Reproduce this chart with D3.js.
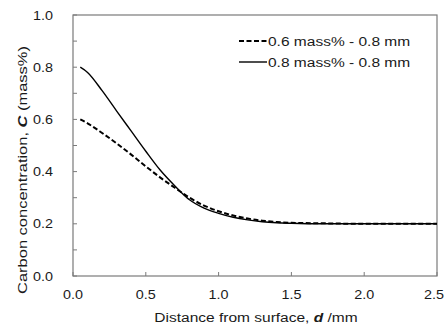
<!DOCTYPE html>
<html>
<head>
<meta charset="utf-8">
<script src="https://cdn.jsdelivr.net/npm/d3@7"></script>
<style>
  body { margin: 0; background: #fff; }
  text { font-family: "Liberation Sans", Arial, sans-serif; fill: #1a1a1a; }
</style>
</head>
<body>
<figure id="chart" style="margin:0"></figure>
<script>
// distance from surface (mm)
const dist = [0.05, 0.1, 0.2, 0.3, 0.4, 0.5, 0.6, 0.7, 0.8, 0.9, 1.0, 1.1, 1.2, 1.3, 1.4, 1.5, 1.7, 2.0, 2.5];
// carbon concentration (mass%)
const conc06 = [0.60, 0.585, 0.548, 0.508, 0.465, 0.42, 0.377, 0.338, 0.30, 0.27, 0.248, 0.232, 0.22, 0.212, 0.207, 0.204, 0.202, 0.20, 0.20];
const conc08 = [0.80, 0.78, 0.71, 0.632, 0.555, 0.478, 0.405, 0.345, 0.292, 0.26, 0.24, 0.225, 0.215, 0.208, 0.204, 0.202, 0.20, 0.20, 0.20];
const seriesNames = ["0.6 mass% - 0.8 mm", "0.8 mass% - 0.8 mm"];
const xTicks = [0, 0.5, 1.0, 1.5, 2.0, 2.5];
const yTicks = [0, 0.2, 0.4, 0.6, 0.8, 1.0];
const yMinor = [0.1, 0.3, 0.5, 0.7, 0.9];

const width = 445, height = 329;
const margin = { top: 15, right: 8, bottom: 53, left: 73 };
const sx = 1.15; // lettering in the picture is a bit wider than tall

const svg = d3.select("#chart").append("svg")
  .attr("width", width)
  .attr("height", height);

const x = d3.scaleLinear().domain([0, 2.5]).range([margin.left, width - margin.right]);
const y = d3.scaleLinear().domain([0, 1.0]).range([height - margin.bottom, margin.top]);

const axisColor = "#7a7a7a";

// frame
svg.append("rect")
  .attr("x", x(0)).attr("y", y(1))
  .attr("width", x(2.5) - x(0)).attr("height", y(0) - y(1))
  .attr("fill", "none").attr("stroke", axisColor).attr("stroke-width", 1.2);

// ticks (inside)
svg.selectAll(".ytick")
  .data(yTicks.concat(yMinor))
  .enter().append("line")
  .attr("x1", x(0)).attr("x2", x(0) + 4)
  .attr("y1", d => y(d)).attr("y2", d => y(d))
  .attr("stroke", axisColor);

svg.selectAll(".xtick")
  .data(xTicks)
  .enter().append("line")
  .attr("x1", d => x(d)).attr("x2", d => x(d))
  .attr("y1", y(0)).attr("y2", y(0) - 4)
  .attr("stroke", axisColor);

// tick labels
svg.selectAll(".ylab")
  .data(yTicks)
  .enter().append("text")
  .attr("transform", d => "translate(53," + (y(d) + 4.5) + ") scale(" + sx + ",1)")
  .attr("text-anchor", "end")
  .style("font-size", "12.5px")
  .text(d => d.toFixed(1));

// last label sits at the window edge, keep it inside
svg.selectAll(".xlab")
  .data(xTicks)
  .enter().append("text")
  .attr("transform", d => "translate(" + Math.min(x(d), width - 11) + ",299) scale(" + sx + ",1)")
  .attr("text-anchor", "middle")
  .style("font-size", "12.5px")
  .text(d => d.toFixed(1));

// axis titles
const xt = svg.append("text")
  .attr("transform", "translate(256,322) scale(" + sx + ",1)")
  .attr("text-anchor", "middle")
  .style("font-size", "13.5px");
xt.append("tspan").text("Distance from surface, ");
xt.append("tspan").attr("font-weight", "bold").attr("font-style", "italic").text("d");
xt.append("tspan").text(" /mm");

const yt = svg.append("text")
  .attr("transform", "translate(27,170) rotate(-90) scale(1.22,1)")
  .attr("text-anchor", "middle")
  .style("font-size", "13.5px");
yt.append("tspan").text("Carbon concentration, ");
yt.append("tspan").attr("font-weight", "bold").attr("font-style", "italic").text("C");
yt.append("tspan").text(" (mass%)");

// curves
const line = d3.line()
  .x(d => x(d[0]))
  .y(d => y(d[1]))
  .curve(d3.curveMonotoneX);

const series = [
  { name: seriesNames[0], values: dist.map((d, i) => [d, conc06[i]]), dash: "5,2.5", w: 2 },
  { name: seriesNames[1], values: dist.map((d, i) => [d, conc08[i]]), dash: null, w: 1.4 }
];

svg.selectAll(".curve")
  .data(series)
  .enter().append("path")
  .attr("d", d => line(d.values))
  .attr("fill", "none")
  .attr("stroke", "#000")
  .attr("stroke-width", d => d.w)
  .attr("stroke-dasharray", d => d.dash);

// legend
const legend = svg.selectAll(".legend")
  .data(series)
  .enter().append("g")
  .attr("transform", (d, i) => "translate(239," + (41 + i * 21) + ")");

legend.append("line")
  .attr("x1", 0).attr("x2", 28)
  .attr("stroke", "#000")
  .attr("stroke-width", d => d.w)
  .attr("stroke-dasharray", d => d.dash);

legend.append("text")
  .attr("transform", "translate(29,4.5) scale(" + sx + ",1)")
  .style("font-size", "13.5px")
  .text(d => d.name);
</script>
</body>
</html>
